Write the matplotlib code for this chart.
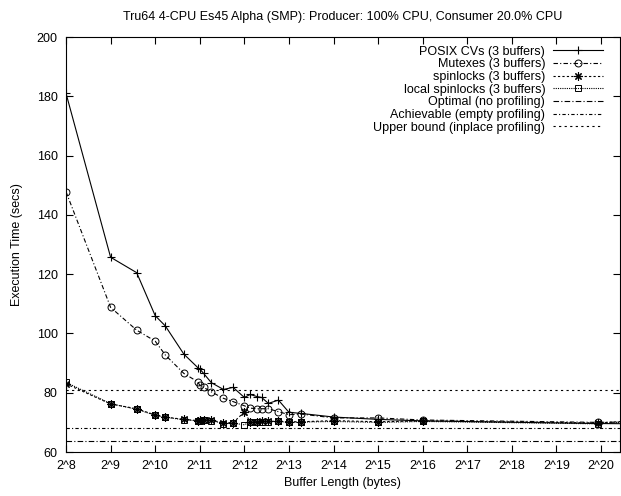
import matplotlib
matplotlib.use("Agg")
import matplotlib.pyplot as plt

plt.rcParams['font.family'] = ['Liberation Sans', 'DejaVu Sans']

# Buffer lengths (bytes)
buf_len = [256, 512, 768, 1024, 1200, 1600, 1984, 2048, 2176, 2450, 2960, 3440,
           4096, 4480, 4990, 5360, 5950, 6960, 8192, 9950, 16384, 32768, 65536,
           1000000, 2097152]

posix_cvs = [181.0, 125.7, 120.5, 106.0, 102.5, 93.0, 88.5, 88.0, 86.5, 83.4, 81.1, 81.8,
             78.4, 79.4, 78.7, 78.4, 76.4, 77.5, 73.4, 73.0, 71.8, 71.0, 70.5,
             69.6, 69.5]
mutexes = [147.8, 108.8, 101.1, 97.4, 92.7, 86.5, 83.7, 82.5, 81.8, 80.3, 78.1, 77.0,
           75.6, 74.8, 74.6, 74.6, 74.6, 73.6, 72.6, 72.8, 71.5, 71.5, 70.8,
           70.0, 70.2]
spinlocks = [83.0, 76.2, 74.6, 72.5, 71.8, 71.0, 70.6, 70.8, 70.8, 70.7, 69.9, 69.9,
             73.5, 70.2, 70.2, 70.3, 70.3, 70.4, 70.2, 70.2, 70.6, 70.2, 70.5,
             69.8, 70.8]
local_spinlocks = [83.5, 76.3, 74.4, 72.4, 71.7, 70.9, 70.5, 70.6, 70.7, 70.6, 69.6, 69.7,
                   69.2, 70.1, 70.1, 70.2, 70.2, 70.3, 70.0, 70.1, 70.3, 70.0, 70.3,
                   69.5, 70.6]

optimal = 63.8
achievable = 68.0
upper_bound = 81.0

x_ticks = [2**k for k in range(8, 21)]
x_tick_labels = ["2^%d" % k for k in range(8, 21)]
y_ticks = [60, 80, 100, 120, 140, 160, 180, 200]

title = "Tru64 4-CPU Es45 Alpha (SMP): Producer: 100% CPU, Consumer 20.0% CPU"

fig = plt.figure(figsize=(6.21, 4.96), dpi=100)
ax = fig.add_axes([0.1063, 0.0887, 0.8917, 0.8367])
ax.set_xscale('log', base=2)

lw = 0.8
ax.plot(buf_len, posix_cvs, color='black', lw=lw, linestyle='-', marker='+',
        markersize=6, markeredgewidth=0.8, label='POSIX CVs (3 buffers)')
ax.plot(buf_len, mutexes, color='black', lw=lw, linestyle=(0, (4, 2, 1, 2)), marker='o',
        markersize=5, markerfacecolor='none', markeredgewidth=0.7, label='Mutexes (3 buffers)')
ax.plot(buf_len, spinlocks, color='black', lw=lw, linestyle=(0, (2, 2)), marker=(8, 2, 0),
        markersize=6, markeredgewidth=0.8, label='spinlocks (3 buffers)')
ax.plot(buf_len, local_spinlocks, color='black', lw=lw, linestyle=(0, (1, 1)), marker='s',
        markersize=5, markerfacecolor='none', markeredgewidth=0.7,
        label='local spinlocks (3 buffers)')
ax.axhline(optimal, color='black', lw=lw, linestyle=(0, (5, 2, 1, 2)),
           label='Optimal (no profiling)')
ax.axhline(achievable, color='black', lw=lw, linestyle=(0, (3, 2, 1, 2)),
           label='Achievable (empty profiling)')
ax.axhline(upper_bound, color='black', lw=lw, linestyle=(0, (2, 3)),
           label='Upper bound (inplace profiling)')

ax.set_xlim(256, 2**20.42)
ax.set_ylim(60, 200)
ax.set_xticks(x_ticks)
ax.set_xticklabels(x_tick_labels)
ax.xaxis.set_minor_locator(matplotlib.ticker.NullLocator())
ax.set_yticks(y_ticks)
ax.tick_params(direction='in', length=5, width=0.8, top=True, right=True,
               labelsize=9, pad=6)
for s in ax.spines.values():
    s.set_linewidth(0.8)

ax.set_xlabel('Buffer Length (bytes)', fontsize=9, labelpad=3)
ax.set_ylabel('Execution Time (secs)', fontsize=9, labelpad=10)
ax.set_title(title, fontsize=9, pad=12)

leg = ax.legend(loc='upper right', frameon=False, markerfirst=False, fontsize=9,
                handlelength=4, labelspacing=0.05, borderaxespad=0.3,
                handletextpad=0.6, bbox_to_anchor=(0.985, 1.0))
for col in leg._legend_handle_box.get_children():
    col.align = 'right'

fig.savefig('out.png', dpi=100)
